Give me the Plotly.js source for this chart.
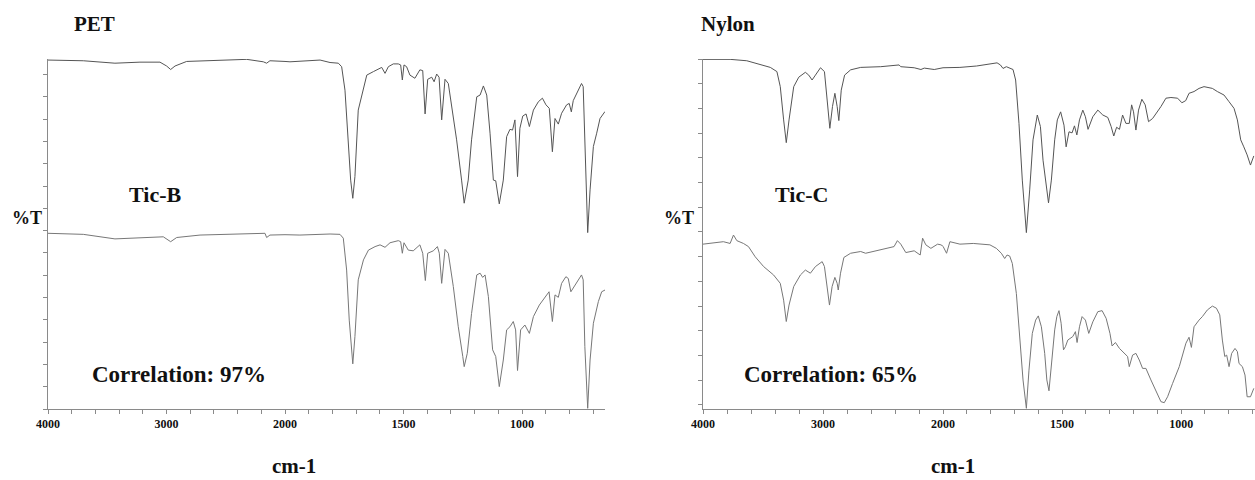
<!DOCTYPE html>
<html><head><meta charset="utf-8">
<script src="https://cdn.plot.ly/plotly-3.0.1.min.js"></script>
<style>html,body{margin:0;padding:0;background:#fff}#chart{width:1255px;height:480px}</style>
</head><body><div id="chart"></div>
<script>
// ---------- data (wavenumber cm-1, relative %T) ----------
const petWavenumber = [4000,3702,3435,3224,3055,2999,2965,2928,2830,2577,2323,2183,2155,2127,2000,1979,1852,1810,1775,1761,1747,1733,1723,1714,1705,1691,1669,1655,1627,1606,1592,1578,1564,1543,1522,1512,1505,1498,1487,1473,1452,1431,1419,1409,1398,1381,1371,1360,1350,1339,1325,1311,1297,1276,1255,1244,1227,1213,1191,1177,1163,1149,1135,1121,1111,1096,1079,1065,1051,1040,1030,1019,1009,997,983,969,952,931,914,899,885,872,861,847,833,812,801,792,784,763,749,742,735,723,713,699,685,671,650];
const petTransmittance = [99.7,99.5,98.8,99.1,99.1,98.0,97.0,98.0,99.3,99.5,99.9,99.2,98.8,99.5,99.3,99.2,99.7,99.0,98.8,97.8,91.1,76.9,65.4,60.2,66.4,85.4,92.1,95.4,96.4,97.0,97.6,95.9,97.8,98.6,98.6,98.3,94.0,98.3,97.8,95.4,94.5,96.9,96.7,84.3,94.2,94.8,93.5,95.7,94.8,82.6,94.2,93.0,86.4,76.9,65.4,58.8,65.4,76.9,89.2,89.7,92.3,89.7,78.8,65.4,65.2,58.6,65.4,77.8,79.9,79.7,82.6,66.4,80.2,83.7,84.3,80.7,85.4,87.8,88.8,86.9,85.9,73.5,83.0,81.4,84.5,86.9,87.3,84.9,88.1,91.1,93.0,92.1,76.9,50.4,62.6,75.0,78.8,83.0,85.0];

const ticBWavenumber = [4000,3702,3435,3224,3027,2965,2914,2717,2436,2169,2155,2127,2000,1937,1810,1768,1754,1740,1729,1714,1705,1691,1669,1648,1620,1599,1578,1557,1522,1512,1505,1498,1480,1459,1431,1419,1408,1398,1374,1357,1349,1339,1325,1311,1290,1269,1250,1244,1231,1213,1191,1177,1166,1156,1142,1124,1111,1096,1079,1065,1051,1037,1027,1019,1006,988,969,952,927,903,886,872,861,847,833,815,805,794,777,749,742,735,723,713,699,678,664,650];
const ticBTransmittance = [50.2,49.9,48.6,49.0,49.2,47.8,49.0,49.7,49.9,50.2,49.0,49.7,49.8,49.7,50.0,49.9,48.8,39.7,25.4,12.9,20.7,36.9,42.6,45.4,46.4,46.9,46.2,47.5,48.1,47.8,44.5,47.5,45.4,45.2,46.9,44.5,36.7,44.5,45.2,46.4,44.5,35.9,45.6,44.5,35.0,23.5,15.0,12.1,15.9,27.3,38.3,38.8,37.6,38.3,32.1,16.9,15.0,6.4,14.0,22.6,23.5,25.0,22.6,11.0,22.6,24.0,21.6,26.4,29.7,32.1,33.5,25.0,32.6,31.9,35.9,37.8,37.3,33.5,35.4,38.3,36.9,17.8,0.2,14.0,24.5,30.7,33.5,34.0];

const nylonWavenumber = [4000,3774,3635,3523,3439,3384,3356,3328,3306,3283,3244,3202,3147,3119,3091,3063,3021,2988,2965,2943,2921,2901,2882,2868,2848,2820,2770,2686,2519,2366,2352,2240,2184,2156,2073,2000,1929,1859,1796,1773,1759,1748,1734,1720,1706,1695,1681,1667,1650,1636,1622,1604,1591,1580,1569,1557,1545,1531,1520,1506,1492,1483,1471,1458,1448,1438,1427,1413,1402,1391,1371,1350,1329,1308,1294,1283,1271,1259,1246,1232,1218,1208,1200,1190,1179,1165,1151,1137,1120,1099,1085,1064,1043,1015,997,981,967,946,925,904,869,848,820,799,778,764,750,737,723,709,695];
const nylonTransmittance = [99.9,99.9,99.5,98.3,97.6,96.4,92.1,82.6,76.1,82.6,92.1,94.8,96.2,95.4,94.0,95.4,97.5,96.4,88.3,80.2,86.4,90.2,86.4,82.4,91.1,95.4,96.9,97.6,97.8,98.3,97.8,97.5,97.0,97.4,97.0,97.5,97.6,98.0,98.6,98.9,98.3,97.3,97.8,97.3,97.0,94.0,81.6,65.4,50.4,62.6,76.9,84.0,80.7,71.1,65.4,58.9,65.4,76.9,82.6,84.9,81.1,74.9,79.2,78.9,80.9,78.3,82.6,85.4,83.5,79.9,83.5,85.4,84.0,83.3,80.7,78.0,80.5,79.9,84.0,81.6,81.6,86.9,84.9,79.7,85.4,88.5,86.9,82.1,83.0,84.9,86.4,88.8,89.0,88.8,87.5,88.1,90.2,90.7,91.6,92.1,91.6,90.7,89.7,87.8,85.9,82.6,76.9,74.9,72.6,69.7,72.3];

const ticCWavenumber = [4000,3914,3830,3774,3746,3718,3663,3621,3565,3495,3412,3356,3328,3306,3283,3244,3188,3147,3105,3063,3007,2988,2965,2946,2924,2901,2882,2873,2854,2826,2770,2686,2645,2519,2408,2380,2352,2310,2240,2190,2170,2143,2101,2045,2017,2000,1985,1971,1929,1873,1831,1803,1776,1755,1741,1731,1720,1709,1692,1678,1664,1650,1639,1625,1611,1600,1587,1573,1564,1555,1545,1531,1522,1513,1504,1494,1486,1476,1455,1444,1437,1427,1416,1402,1388,1371,1350,1332,1315,1299,1290,1276,1259,1239,1225,1218,1204,1190,1176,1162,1148,1127,1106,1085,1071,1057,1036,1008,980,967,957,946,925,911,890,869,852,838,827,817,809,799,788,774,764,757,743,732,723,709,695];
const ticCTransmittance = [47.1,47.5,47.8,47.3,49.7,48.1,47.3,46.4,43.5,40.7,38.3,35.9,31.1,25.0,29.7,35.0,38.3,39.7,38.8,40.7,42.1,40.7,35.0,29.7,35.0,37.6,35.9,34.0,38.8,43.3,44.5,45.0,44.5,45.6,46.4,48.1,47.1,44.7,45.2,44.0,48.8,46.9,45.9,47.1,46.9,46.5,44.5,47.8,47.1,47.3,47.1,46.9,45.9,44.5,43.0,44.0,43.7,41.6,33.0,20.7,8.3,0.2,11.1,21.6,25.4,26.6,23.5,15.9,8.3,5.2,12.1,22.6,26.4,28.1,24.5,16.9,17.8,19.7,20.7,22.1,19.0,23.5,26.4,25.4,21.6,24.9,27.8,28.1,25.9,21.6,18.0,19.0,17.3,15.9,15.0,12.1,15.4,15.9,14.0,11.6,11.6,8.3,5.0,2.1,1.8,3.5,7.3,12.1,18.8,20.5,17.6,23.5,25.4,26.4,28.3,29.4,28.8,26.9,19.7,15.0,15.4,12.1,15.9,17.3,16.4,13.0,12.1,9.7,3.5,3.5,5.9];

const xTickLabels = ['4000','3000','2000','1500','1000'];
const panelTitles = ['PET','Nylon'];
const sampleNames = ['Tic-B','Tic-C'];
const correlations = ['Correlation: 97%','Correlation: 65%'];
const yAxisTitle = '%T';
const xAxisTitle = 'cm-1';

// ---------- helpers ----------
const W = 1255, H = 480;
const px = v => v / W, py = v => (H - v) / H;
function split(ws, ts, hi) {
  const x = [], y = [];
  ws.forEach((w, i) => { if (hi ? w >= 2000 : w <= 2000) { x.push(w); y.push(ts[i]); } });
  return {x, y};
}
function traces(ws, ts, color, xa, xb, ya) {
  const a = split(ws, ts, true), b = split(ws, ts, false);
  return [
    {x: a.x, y: a.y, xaxis: xa, yaxis: ya, mode: 'lines', line: {color, width: 1}, hoverinfo: 'skip'},
    {x: b.x, y: b.y, xaxis: xb, yaxis: ya, mode: 'lines', line: {color, width: 1}, hoverinfo: 'skip'}
  ];
}
function ticks(from, to, step) {
  const vals = [], text = [];
  for (let w = from; w >= to; w -= step) { vals.push(w); text.push(xTickLabels.includes(String(w)) ? String(w) : ''); }
  return {vals, text};
}
const tHi = ticks(4000, 2000, 200), tLo = ticks(1900, 700, 100);
const axisGray = '#8a8a8a';
const tickFont = {family: 'Liberation Serif, Times New Roman, serif', size: 12, color: '#111', weight: 'bold'};
function xa(domain, range, anchor, t) {
  return {domain, range, anchor, showgrid: false, zeroline: false, showline: true, linecolor: axisGray, linewidth: 1,
    ticks: 'outside', ticklen: 4, tickcolor: axisGray, tickmode: 'array', tickvals: t.vals, ticktext: t.text,
    tickfont: tickFont, fixedrange: true};
}
function ya(anchor, tick0, dtick) {
  return {domain: [1 - 409 / H, 1 - 59 / H], range: [0, 100], anchor, showgrid: false, zeroline: false,
    showline: true, linecolor: axisGray, linewidth: 1, ticks: 'outside', ticklen: 4, tickcolor: axisGray,
    tick0, dtick, showticklabels: false, fixedrange: true};
}

const data = [
  ...traces(petWavenumber, petTransmittance, '#555', 'x', 'x2', 'y'),
  ...traces(ticBWavenumber, ticBTransmittance, '#777', 'x', 'x2', 'y'),
  ...traces(nylonWavenumber, nylonTransmittance, '#555', 'x3', 'x4', 'y2'),
  ...traces(ticCWavenumber, ticCTransmittance, '#777', 'x3', 'x4', 'y2')
];

const serif = 'Liberation Serif, Times New Roman, serif';
function ann(text, x, y, size, anchor) {
  return {text: '<b>' + text + '</b>', x: px(x), y: py(y), xref: 'paper', yref: 'paper', xanchor: anchor || 'left',
    yanchor: 'middle', showarrow: false, font: {family: serif, size, color: '#111'}};
}

const layout = {
  width: W, height: H, margin: {l: 0, r: 0, t: 0, b: 0}, paper_bgcolor: '#fff', plot_bgcolor: '#fff', showlegend: false,
  xaxis: xa([px(48), px(285)], [4000, 2000], 'y', tHi),
  xaxis2: xa([px(285), px(605)], [2000, 650], 'y', tLo),
  xaxis3: xa([px(703), px(943)], [4000, 2000], 'y2', tHi),
  xaxis4: xa([px(943), 1], [2000, 690], 'y2', tLo),
  yaxis: ya('x', 0, 6.37),
  yaxis2: ya('x3', 100, 7.06),
  annotations: [
    ann(panelTitles[0], 72, 24, 21), ann(panelTitles[1], 699, 24, 21),
    ann(sampleNames[0], 127, 194, 22), ann(sampleNames[1], 773, 194, 22),
    ann(yAxisTitle, 10, 218, 18), ann(yAxisTitle, 662, 218, 18),
    ann(correlations[0], 90, 374, 23), ann(correlations[1], 742, 374, 23),
    ann(xAxisTitle, 294, 466, 21, 'center'), ann(xAxisTitle, 953, 466, 21, 'center')
  ]
};
Plotly.newPlot('chart', data, layout, {staticPlot: true, displayModeBar: false});
</script></body></html>
